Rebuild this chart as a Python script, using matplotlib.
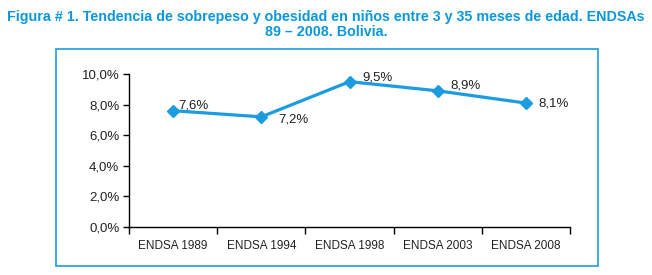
import matplotlib.pyplot as plt
from matplotlib.patches import Rectangle
from matplotlib.ticker import FuncFormatter, FixedLocator
import numpy as np

plt.rcParams['font.family'] = ['Liberation Sans', 'DejaVu Sans']

surveys = ['ENDSA 1989', 'ENDSA 1994', 'ENDSA 1998', 'ENDSA 2003', 'ENDSA 2008']
prevalence = [7.6, 7.2, 9.5, 8.9, 8.1]
labels = ['7,6%', '7,2%', '9,5%', '8,9%', '8,1%']

# label offsets in points (dx, dy) picked by eye
offsets = [(4, 4), (12, -2), (9, 3), (9, 4), (9, 0)]

blue = '#1C9CE0'
title_blue = '#0A98DA'

fig = plt.figure(figsize=(6.52, 2.75), dpi=100)
fig.patch.set_facecolor('white')

fig.patches.append(Rectangle((0.0859, 0.0327), 0.8313, 0.789, transform=fig.transFigure,
                             fill=False, edgecolor=blue, linewidth=1.2))

fig.text(0.5, 0.965, 'Figura # 1. Tendencia de sobrepeso y obesidad en niños entre 3 y 35 meses de edad. ENDSAs\n89 – 2008. Bolivia.',
         ha='center', va='top', fontsize=10.3, fontweight='bold', color=title_blue,
         linespacing=1.15)

ax = fig.add_axes([0.1979, 0.1745, 0.6764, 0.5564])
x = np.arange(len(surveys))
ax.plot(x, prevalence, color=blue, linewidth=2.3, marker='D', markersize=6.5,
        markerfacecolor=blue, markeredgecolor=blue)

for xi, yi, lab, (dx, dy) in zip(x, prevalence, labels, offsets):
    ax.annotate(lab, (xi, yi), xytext=(dx, dy), textcoords='offset points',
                ha='left', va='center', fontsize=9.5, color='#222222')

ax.set_xlim(-0.5, len(surveys) - 0.5)
ax.set_ylim(0, 10)
ax.set_yticks([0, 2, 4, 6, 8, 10])
ax.yaxis.set_major_formatter(FuncFormatter(lambda v, p: ('%.1f%%' % v).replace('.', ',')))
ax.xaxis.set_major_locator(FixedLocator(np.arange(-0.5, len(surveys), 1.0)))
ax.set_xticklabels([])
ax.set_xticks(x, minor=True)
ax.set_xticklabels(surveys, minor=True, fontsize=8.5, color='#222222')
ax.tick_params(axis='x', which='minor', length=0, pad=9)
ax.tick_params(axis='x', which='major', length=5, width=1, direction='out')
ax.tick_params(axis='y', length=4, width=1, labelsize=9.5, labelcolor='#222222', pad=3)

for s in ['top', 'right']:
    ax.spines[s].set_visible(False)
ax.spines['left'].set_linewidth(1)
ax.spines['bottom'].set_linewidth(1)

fig.savefig('out.png', dpi=100)
